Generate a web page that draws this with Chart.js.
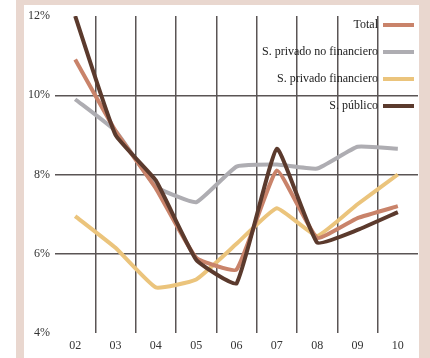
<!DOCTYPE html>
<html>
<head>
<meta charset="utf-8">
<script src="https://cdn.jsdelivr.net/npm/chart.js@4/dist/chart.umd.min.js"></script>
<style>
  body { margin: 0; background: #fff; }
  #wrap { width: 430px; height: 358px; }
</style>
</head>
<body>
<div id="wrap"><canvas id="chart" width="430" height="358"></canvas></div>
<script>
const years = ['02', '03', '04', '05', '06', '07', '08', '09', '10'];

const total       = [10.9, 9.1, 7.65, 5.9, 5.6, 8.1, 6.4, 6.9, 7.2];
const privNoFin   = [9.9, 9.1, 7.7, 7.3, 8.2, 8.25, 8.15, 8.7, 8.65];
const privFin     = [6.95, 6.15, 5.15, 5.35, 6.25, 7.15, 6.45, 7.25, 8.0];
const publico     = [12.0, 9.0, 7.85, 5.85, 5.25, 8.65, 6.28, 6.6, 7.05];

const yTicks = [4, 6, 8, 10, 12];

const serif = '"Liberation Serif", "DejaVu Serif", serif';

// pinkish frame around the white plot
const framePlugin = {
  id: 'frame',
  beforeDraw(chart) {
    const c = chart.ctx;
    c.save();
    c.fillStyle = '#fff';
    c.fillRect(0, 0, chart.width, chart.height);
    c.fillStyle = '#e9d7cf';
    c.fillRect(16, 0, 8, chart.height);
    c.fillRect(16, 0, chart.width - 16, 5);
    c.fillRect(419, 0, 11, chart.height);
    c.restore();
  }
};

// legend: text right aligned, line sample on the right
const legendPlugin = {
  id: 'rightLegend',
  afterDraw(chart) {
    const c = chart.ctx;
    c.save();
    c.font = '12px ' + serif;
    c.textAlign = 'right';
    c.textBaseline = 'middle';
    chart.data.datasets.forEach((ds, i) => {
      const y = 25 + i * 27;
      c.fillStyle = '#222';
      c.fillText(ds.label, 378, y);
      c.strokeStyle = ds.borderColor;
      c.lineWidth = 4;
      c.beginPath();
      c.moveTo(383, y);
      c.lineTo(414, y);
      c.stroke();
    });
    c.restore();
  }
};

function make_dataset(label, values, color, order) {
  return {
    label: label,
    data: values,
    borderColor: color,
    backgroundColor: color,
    borderWidth: 4,
    pointRadius: 0,
    tension: 0.12,
    order: order
  };
}

const config = {
  type: 'line',
  data: {
    labels: years,
    datasets: [
      make_dataset('Total', total, '#c9836a', 1),
      make_dataset('S. privado no financiero', privNoFin, '#aeadb2', 3),
      make_dataset('S. privado financiero', privFin, '#ebc47c', 2),
      make_dataset('S. público', publico, '#5b3a2d', 0)
    ]
  },
  options: {
    responsive: false,
    animation: false,
    layout: { padding: { top: 16, right: 12, left: 0, bottom: 0 } },
    plugins: { legend: { display: false }, tooltip: { enabled: false } },
    scales: {
      x: {
        offset: true,
        border: { display: false },
        grid: {
          offset: true,
          drawTicks: false,
          lineWidth: 1.5,
          color: (ctx) => (ctx.type !== 'tick' || ctx.index === 0) ? 'rgba(0,0,0,0)' : '#5a5555'
        },
        ticks: { color: '#333', font: { family: serif, size: 12 }, padding: 6 },
        afterFit: (s) => { s.height = 25; }
      },
      y: {
        min: 4,
        max: 12,
        border: { display: false },
        afterBuildTicks: (s) => { s.ticks = yTicks.map(v => ({ value: v })); },
        grid: {
          drawTicks: false,
          lineWidth: 1.5,
          color: (ctx) => (ctx.tick && (ctx.tick.value === 4 || ctx.tick.value === 12)) ? 'rgba(0,0,0,0)' : '#5a5555'
        },
        ticks: {
          color: '#333',
          font: { family: serif, size: 12 },
          padding: 5,
          callback: (v) => v + '%'
        },
        afterFit: (s) => { s.width = 55; }
      }
    }
  },
  plugins: [framePlugin, legendPlugin]
};

new Chart(document.getElementById('chart'), config);
</script>
</body>
</html>
